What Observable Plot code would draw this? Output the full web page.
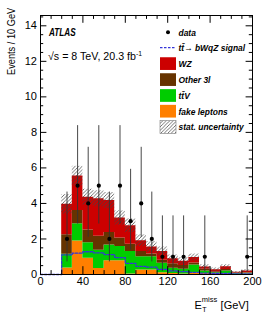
<!DOCTYPE html>
<html><head><meta charset="utf-8">
<script src="https://cdn.jsdelivr.net/npm/d3@7"></script>
<script src="https://cdn.jsdelivr.net/npm/@observablehq/plot@0.6"></script>
<style>body{margin:0;background:#fff}</style>
</head><body><div id="chart"></div>
<script>
// ---- data (10 GeV bins, lower edges) ----
const binLow = [0,10,20,30,40,50,60,70,80,90,100,110,120,130,140,150,160,170,180,190];
const binWidth = 10;
const fakeLeptons = [0,0,0.36,1.88,0.92,0.34,0.77,0.77,0.03,0.25,0.25,0.10,0.05,0.03,0.08,0.05,0.05,0.05,0.02,0.03];
const ttV        = [0,0,0.78,0.97,0.87,1.03,0.89,0.80,1.26,0.75,0.75,0.53,0.30,0.27,0.45,0.15,0.05,0.15,0.03,0.04];
const other3l    = [0,0,1.10,0.75,0.72,0.79,0.71,0.48,0.41,0.30,0.15,0.17,0.25,0.20,0.12,0.10,0.05,0.08,0.03,0.03];
const wz         = [0,0,1.71,1.94,1.84,2.10,1.79,1.13,1.05,0.60,0.40,0.50,0.28,0.24,0.30,0.12,0.12,0.15,0.04,0.10];
const statErr    = [0,0,0.55,0.55,0.45,0.45,0.45,0.40,0.38,0.33,0.30,0.25,0.22,0.20,0.20,0.13,0.10,0.12,0.05,0.07];
const signal     = [0,0,1.10,1.20,1.28,1.22,1.12,0.95,0.63,0.46,0.42,0.29,0.20,0.16,0.12,0.08,0.06,0.06,0.04,0.04];
const dataCounts = [0,0,2,5,4,5,2,5,3,4,2,1,1,1,0,1,0,0,0,1];
const dataLow    = [0,0,0.71,2.84,2.09,2.84,0.71,2.84,1.37,2.09,0.71,0.17,0.17,0.17,0,0.17,0,0,0,0.17];
const dataHigh   = [0,0,4.64,8.38,7.16,8.38,4.64,8.38,5.92,7.16,4.64,3.30,3.30,3.30,0,3.30,0,0,0,3.30];
const xTickLabels = [0,40,80,120,160,200];
const yTickLabels = [0,2,4,6,8,10,12,14];
const legendLabels = ["data","tt\u0304\u2192 bWqZ signal","WZ","Other 3l","tt\u0304V","fake leptons","stat. uncertainty"];

// ---- styles ----
const colors = {wz:"#cc0000", other:"#663300", ttv:"#00cc00", fake:"#ff7f00", sig:"#3535d8"};
const components = [
  {name:"fake leptons", vals:fakeLeptons, color:colors.fake},
  {name:"ttV", vals:ttV, color:colors.ttv},
  {name:"Other 3l", vals:other3l, color:colors.other},
  {name:"WZ", vals:wz, color:colors.wz}
];

// ---- derived tables ----
const stackRows = [];
const totals = binLow.map(() => 0);
components.forEach(c => {
  binLow.forEach((lo, i) => {
    stackRows.push({comp:c.name, color:c.color, x:lo, y1:totals[i], y2:totals[i] + c.vals[i]});
  });
  const last = binLow.length - 1;
  stackRows.push({comp:c.name, color:c.color, x:binLow[last] + binWidth, y1:totals[last], y2:totals[last] + c.vals[last]});
  binLow.forEach((lo, i) => { totals[i] += c.vals[i]; });
});
const hatchRows = binLow.map((lo, i) => ({x1:lo, x2:lo + binWidth, y1:Math.max(0, totals[i] - statErr[i]), y2:totals[i] + statErr[i]}))
  .filter((d, i) => statErr[i] > 0);
const sigRows = binLow.map((lo, i) => ({x:lo, y:signal[i]}));
sigRows.push({x:binLow[binLow.length-1] + binWidth, y:signal[signal.length-1]});
const pts = binLow.map((lo, i) => ({x:lo + binWidth/2, n:dataCounts[i], lo:dataLow[i], hi:dataHigh[i]})).filter(d => d.n > 0);

const W = 266, H = 317, mL = 40, mR = 14, mT = 15, mB = 43;
const pw = W - mL - mR, ph = H - mT - mB;
const yMax = 14.58;
const yMinor = d3.range(0.5, yMax, 0.5).filter(v => v % 2 !== 0);
const xMinor = d3.range(10, 200, 10).filter(v => v % 40 !== 0);
const yLen = 6.4, xLen = 7.8;

const svg = Plot.plot({
  width: W, height: H, marginLeft: mL, marginRight: mR, marginTop: mT, marginBottom: mB,
  x: {domain:[0,200]},
  y: {domain:[0,yMax]},
  color: {type:"identity"},
  style: {fontFamily:"'Liberation Sans', Arial, Helvetica, sans-serif", background:"#fff", color:"#000"},
  marks: [
    Plot.area(stackRows, {x1:"x", y1:"y1", y2:"y2", z:"comp", fill:"color", curve:"step-after"}),
    Plot.rect(hatchRows, {x1:"x1", x2:"x2", y1:"y1", y2:"y2", fill:"url(#hatch)"}),
    Plot.line(sigRows, {x:"x", y:"y", curve:"step-after", stroke:colors.sig, strokeWidth:1.3, strokeDasharray:"2.5,1.5"}),
    Plot.ruleX(pts, {x:"x", y1:"lo", y2:"hi", stroke:"#333", strokeWidth:0.9}),
    Plot.dot(pts, {x:"x", y:"n", r:2.1, fill:"#000"}),
    Plot.frame({stroke:"#000", strokeWidth:1}),
    Plot.tickY(yTickLabels, {y:d=>d, insetRight:pw - yLen, stroke:"#000"}),
    Plot.tickY(yTickLabels, {y:d=>d, insetLeft:pw - yLen, stroke:"#000"}),
    Plot.tickY(yMinor, {y:d=>d, insetRight:pw - yLen/2, stroke:"#000"}),
    Plot.tickY(yMinor, {y:d=>d, insetLeft:pw - yLen/2, stroke:"#000"}),
    Plot.tickX(xTickLabels, {x:d=>d, insetTop:ph - xLen, stroke:"#000"}),
    Plot.tickX(xTickLabels, {x:d=>d, insetBottom:ph - xLen, stroke:"#000"}),
    Plot.tickX(xMinor, {x:d=>d, insetTop:ph - xLen/2, stroke:"#000"}),
    Plot.tickX(xMinor, {x:d=>d, insetBottom:ph - xLen/2, stroke:"#000"}),
    Plot.axisX({ticks:xTickLabels, tickSize:0, tickPadding:3, fontSize:11, label:null}),
    Plot.axisY({ticks:yTickLabels, tickSize:0, tickPadding:3.5, fontSize:11, label:null})
  ]
});

const s = d3.select(svg);
const defs = s.insert("defs", ":first-child");
const pat = defs.append("pattern").attr("id","hatch").attr("patternUnits","userSpaceOnUse")
  .attr("width",3.5).attr("height",3.5);
pat.append("path").attr("d","M-1,1 L1,-1 M0,3.5 L3.5,0 M2.5,4.5 L4.5,2.5")
  .attr("stroke","#444").attr("stroke-width",0.75).attr("fill","none");

const font = "'Liberation Sans', Arial, Helvetica, sans-serif";
const ann = s.append("g").attr("text-anchor","start").attr("font-family",font);
// ATLAS label
ann.append("text").attr("transform","translate(49,36) scale(0.78,1)").attr("text-anchor","start")
  .attr("font-size",10.5).attr("font-weight","bold").attr("font-style","italic")
  .text("ATLAS");
// energy / lumi
const lumi = ann.append("text").attr("transform","translate(48,60) scale(0.97,1)").attr("text-anchor","start")
  .attr("font-size",11);
lumi.append("tspan").text("\u221As = 8 TeV, 20.3 fb");
lumi.append("tspan").attr("font-size",7).attr("dy",-4.5).text("-1");

// y axis title: starts at bottom (y=75) and runs upward to the top
const yg = ann.append("g").attr("transform","translate(15,75) rotate(-90)");
yg.append("text").attr("x",0).attr("y",0).attr("transform","scale(0.84,1)")
  .attr("font-size",11).attr("text-anchor","start")
  .text("Events / 10 GeV");

// x axis title
const xt = ann.append("text").attr("x",194.5).attr("y",308.5).attr("text-anchor","start").attr("font-size",11);
xt.append("tspan").text("E");
xt.append("tspan").attr("font-size",7.5).attr("dy",-7).text("miss");
xt.append("tspan").attr("font-size",7).attr("dx",-15).attr("dy",10).text("T");
xt.append("tspan").attr("font-size",11).attr("dx",11).attr("dy",-3).text(" [GeV]");

// legend
const lg = ann.append("g");
const lx = 160, lw = 16, lh = 12.7, tx = 178.5;
const rowsY = [32.3, 47.7, 63.6, 79.6, 95.5, 111.2, 127];
const boxFills = [null, null, colors.wz, colors.other, colors.ttv, colors.fake, "url(#hatch)"];
legendLabels.forEach((lab, i) => {
  const cy = rowsY[i];
  if (i === 0) {
    lg.append("circle").attr("cx", lx + lw/2).attr("cy", cy).attr("r", 2).attr("fill","#000");
  } else if (i === 1) {
    lg.append("line").attr("x1", lx).attr("x2", lx + lw).attr("y1", cy).attr("y2", cy)
      .attr("stroke", colors.sig).attr("stroke-width",1.3).attr("stroke-dasharray","2.5,1.5");
  } else {
    lg.append("rect").attr("x", lx).attr("y", cy - lh/2).attr("width", lw).attr("height", lh)
      .attr("fill", boxFills[i]).attr("stroke", i === 6 ? "#777" : "none").attr("stroke-width", 0.6);
  }
  lg.append("text").attr("transform", `translate(${tx},${cy + 3.4}) scale(0.89,1)`).attr("text-anchor","start")
    .attr("font-size", 9.5).attr("font-weight","bold").attr("font-style","italic")
    .text(lab);
});

document.getElementById("chart").appendChild(svg);
</script>
</body></html>
